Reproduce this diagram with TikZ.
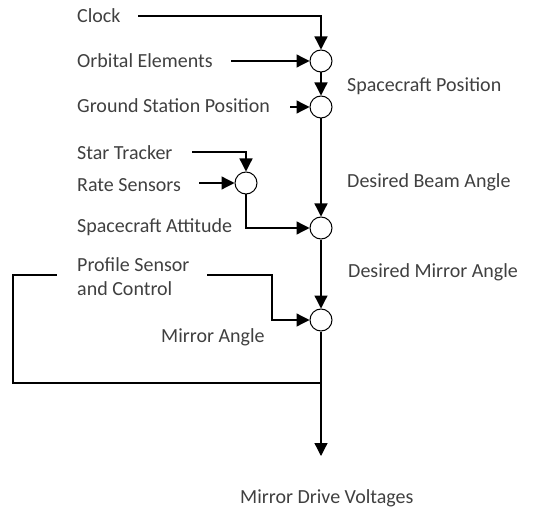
\documentclass[tikz,border=0pt]{standalone}
\usepackage{fontspec}
\setmainfont{Carlito}
\usetikzlibrary{arrows.meta}
\definecolor{txt}{gray}{0.25}
\begin{document}
\begin{tikzpicture}[x=1pt,y=-1pt,
  lbl/.style={anchor=base west,inner sep=0pt,text=txt,font=\fontsize{20}{24}\selectfont},
  sum/.style={circle,draw,fill=white,line width=1pt,minimum size=22pt,inner sep=0pt},
  wire/.style={line width=1.3pt},
  arr/.style={wire,-{Triangle[length=13pt,width=13pt]}}]
\useasboundingbox (0,0) rectangle (560,508);
% labels
\node[lbl] (tclock) at (77,23) {Clock};
\node[lbl] (torb) at (77,68) {Orbital Elements};
\node[lbl] (tgnd) at (77,113) {Ground Station Position};
\node[lbl] (tstar) at (77,160) {Star Tracker};
\node[lbl] (trate) at (77,192) {Rate Sensors};
\node[lbl] (tatt) at (77,233) {Spacecraft Attitude};
\node[lbl,align=left,anchor=north west] (tprof) at (77,257) {Profile Sensor\\and Control};
\node[lbl] (tmang) at (161,342) {Mirror Angle};
\node[lbl] (tscp) at (347,92) {Spacecraft Position};
\node[lbl] (tdba) at (347,188) {Desired Beam Angle};
\node[lbl] (tdma) at (348,277) {Desired Mirror Angle};
\node[lbl] (tmdv) at (240,503) {Mirror Drive Voltages};
% summing junctions
\node[sum] (c1) at (321,61) {};
\node[sum] (c2) at (321,107) {};
\node[sum] (c3) at (246,183) {};
\node[sum] (c4) at (321,228) {};
\node[sum] (c5) at (321,320) {};
% connector ends
\coordinate (sclk) at (138,16);
\coordinate (sorb) at (231,61);
\coordinate (sgnd) at (290,107);
\coordinate (sstar) at (192,152);
\coordinate (srate) at (199,183);
\coordinate (sprof) at (207,275);
\coordinate (kprof) at (272,275);
\coordinate (outp) at (321,456);
\coordinate (fb) at (321,383);
\coordinate (fcorner) at (13,275);
\coordinate (fend) at (57,275);
% connectors
\draw[arr] (sclk) -| (c1);
\draw[arr] (sorb) -- (c1.west);
\draw[arr] (c1) -- (c2);
\draw[arr] (sgnd) -- (c2.west);
\draw[arr] (sstar) -| (c3);
\draw[arr] (srate) -- (c3.west);
\draw[arr] (c3) |- (c4);
\draw[arr] (c2) -- (c4);
\draw[arr] (c4) -- (c5);
\draw[arr] (sprof) -- (kprof) |- (c5);
\draw[arr] (c5) -- (outp);
\draw[wire] (fb) -| (fcorner) -- (fend);
\end{tikzpicture}
\end{document}
